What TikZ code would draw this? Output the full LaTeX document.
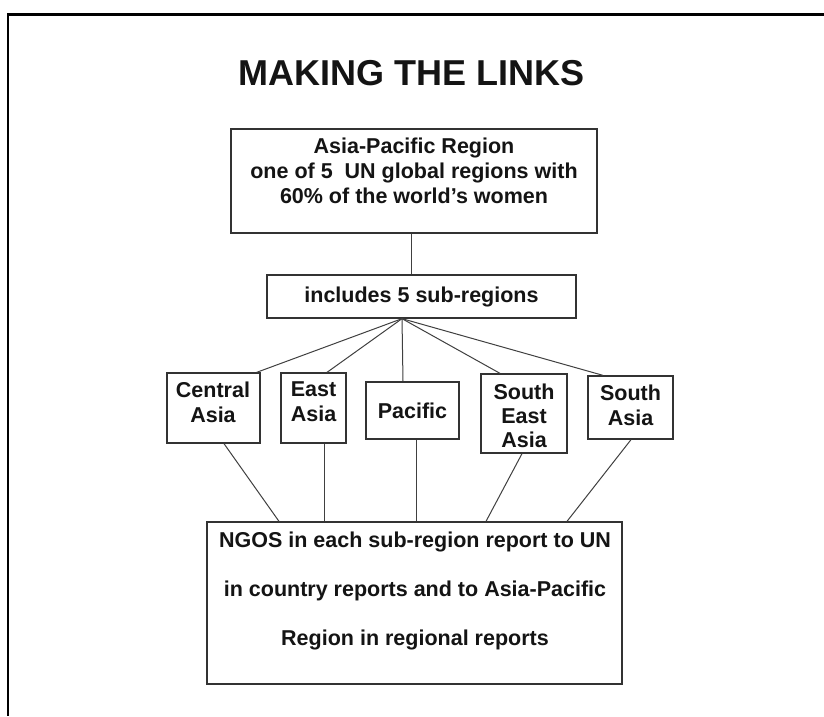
\documentclass[tikz,border=0pt]{standalone}
\usepackage{fontspec}
\setmainfont{Liberation Sans}
\begin{document}
\begin{tikzpicture}[x=1pt,y=-1pt,
  box/.style={draw=black!80, line width=1.3pt, rectangle, inner sep=0pt},
  lbl/.style={inner sep=0pt, align=center, text=black!92, font=\bfseries\fontsize{21.5}{25}\selectfont},
  conn/.style={draw=black!75, line width=1pt},
  frame/.style={draw=black, line width=2.7pt}]
\useasboundingbox (0,0) rectangle (824,716);
\fill[white] (0,0) rectangle (824,716);
% outer frame (top and left sides only)
\coordinate (ftr) at (824,14.5);
\coordinate (fc) at (8,14.5);
\coordinate (fbl) at (8,716);
\draw[frame] (ftr) -- (fc) -- (fbl);
% title
\node[inner sep=0pt, anchor=base, text=black!92, font=\bfseries\fontsize{36}{40}\selectfont] (title) at (411.5,85) {MAKING THE LINKS};
% boxes
\node[box, minimum width=366pt, minimum height=104pt] (top) at (414,181) {};
\node[lbl, anchor=north] (toptext) at (414,137.4) {Asia-Pacific Region\\one of 5\ \ UN global regions with\\60\% of the world’s women};
\node[box, lbl, minimum width=309pt, minimum height=43pt] (inc) at (421.5,296.5) {includes 5 sub-regions};
\node[box, minimum width=93pt, minimum height=70pt] (ca) at (213.5,408) {};
\node[lbl, anchor=north] (catext) at (213,381.4) {Central\\Asia};
\node[box, minimum width=65pt, minimum height=70pt] (ea) at (313.5,408) {};
\node[lbl, anchor=north] (eatext) at (313.5,381.4) {East\\Asia};
\node[box, lbl, minimum width=93pt, minimum height=57pt] (pa) at (412.5,410.5) {Pacific};
\node[box, minimum width=86pt, minimum height=79pt] (se) at (524,413.5) {};
\node[lbl, anchor=north, font=\bfseries\fontsize{21.5}{24}\selectfont] (setext) at (524,383.4) {South\\East\\Asia};
\node[box, minimum width=85pt, minimum height=63pt] (sa) at (630.5,407.5) {};
\node[lbl, anchor=north] (satext) at (630.5,384.4) {South\\Asia};
\node[box, minimum width=415pt, minimum height=162pt] (ngo) at (414.5,603) {};
\node[lbl, anchor=north, font=\bfseries\fontsize{21.5}{49}\selectfont] (ngotext) at (415,531.4) {NGOS in each sub-region report to UN\\in country reports and to Asia-Pacific\\Region in regional reports};
% connectors
\draw[conn] ([xshift=-3pt]top.south) -- ([xshift=-10.5pt]inc.north);
\coordinate (fan) at ([xshift=-19.5pt]inc.south);
\draw[conn] (fan) -- ([xshift=-4pt]ca.north east);
\draw[conn] (fan) -- ([xshift=13.5pt]ea.north);
\draw[conn] (fan) -- ([xshift=-9.5pt]pa.north);
\draw[conn] (fan) -- ([xshift=-24pt]se.north);
\draw[conn] (fan) -- ([xshift=-27.5pt]sa.north);
\draw[conn] ([xshift=10.5pt]ca.south) -- ([xshift=-135.5pt]ngo.north);
\draw[conn] ([xshift=10.5pt]ea.south) -- ([xshift=-90.5pt]ngo.north);
\draw[conn] ([xshift=4pt]pa.south) -- ([xshift=2pt]ngo.north);
\draw[conn] ([xshift=-2pt]se.south) -- ([xshift=71.5pt]ngo.north);
\draw[conn] ([xshift=0.5pt]sa.south) -- ([xshift=152.5pt]ngo.north);
\end{tikzpicture}
\end{document}
